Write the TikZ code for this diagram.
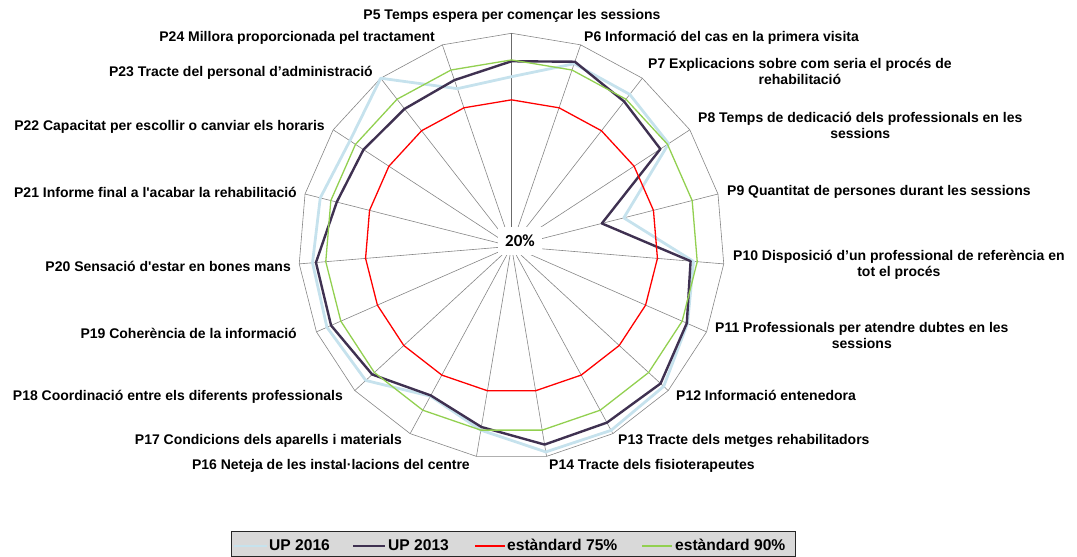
\documentclass[tikz,border=0pt]{standalone}
\usepackage{fontspec}
\setmainfont{Liberation Sans}
\newfontfamily\calfont{Carlito}
\usetikzlibrary{calc}
\definecolor{upA}{RGB}{198,226,237}
\definecolor{upB}{RGB}{63,49,81}
\definecolor{stdR}{RGB}{255,0,0}
\definecolor{stdG}{RGB}{146,208,80}
\definecolor{gridc}{RGB}{134,134,134}
\definecolor{legbg}{RGB}{217,217,217}
\newcommand\lblfont{\fontsize{14}{16}\selectfont\bfseries}
\newcommand\legfont{\fontsize{15.6}{18}\selectfont\bfseries}
\tikzset{
  gridline/.style={draw=gridc,line width=0.6pt},
  valaxis/.style={draw=gridc!80!black,line width=1.2pt},
  serA/.style={draw=upA,line width=2.8pt,line join=round},
  serB/.style={draw=upB,line width=2.4pt,line join=round},
  serR/.style={draw=stdR,line width=1.3pt,line join=round},
  serG/.style={draw=stdG,line width=1.3pt,line join=round},
  lbl/.style={font=\lblfont,inner sep=0pt,text height=10pt,text depth=3pt},
  lbl2/.style={font=\lblfont,inner sep=0pt,align=center},
  legtxt/.style={font=\legfont,inner sep=0pt,text height=11pt,text depth=3.3pt,anchor=west},
  legbox/.style={fill=legbg,draw=black!85,line width=0.8pt}
}
\begin{document}
\begin{tikzpicture}[x=1pt,y=-1pt]
\useasboundingbox (0,0) rectangle (1077,557);
\coordinate (C) at (511.5,246.3);
% grid
\foreach \k in {0,...,18}
  \coordinate (o\k) at ($(C)+({\k*360/19-90}:213)$);
\draw[gridline] (o0) \foreach \k in {1,...,18}{ -- (o\k)} -- cycle;
\foreach \k in {1,...,18} \draw[gridline] (C) -- (o\k);
\draw[valaxis] (C) -- (o0);
% series coordinates
\foreach \v [count=\k from 0] in {83.7,92.5,92.3,90.5,63.5,88.6,92.2,97.7,98.6,98.3,90,84,94.4,95.7,95,94.1,92.5,100,82.6}
  \coordinate (a\k) at ($(C)+({\k*360/19-90}:{(\v-20)*2.6625})$);
\foreach \v [count=\k from 0] in {89.5,93.3,88.9,86.8,55,87.5,91.9,96.1,95.3,95.5,88.8,83.7,91.1,94,93.7,87.7,86.4,85.4,86}
  \coordinate (b\k) at ($(C)+({\k*360/19-90}:{(\v-20)*2.6625})$);
\foreach \k in {0,...,18}{
  \coordinate (r\k) at ($(C)+({\k*360/19-90}:{55*2.6625})$);
  \coordinate (g\k) at ($(C)+({\k*360/19-90}:{70*2.6625})$);
}
\draw[serA] (a0) \foreach \k in {1,...,18}{ -- (a\k)} -- cycle;
\draw[serB] (b0) \foreach \k in {1,...,18}{ -- (b\k)} -- cycle;
\draw[serR] (r0) \foreach \k in {1,...,18}{ -- (r\k)} -- cycle;
\draw[serG] (g0) \foreach \k in {1,...,18}{ -- (g\k)} -- cycle;
% center value label
\node[fill=white,inner sep=0pt,minimum width=44pt,minimum height=28pt,font=\calfont\fontsize{17}{19}\selectfont\bfseries] (v20) at (520,240.5) {20\%};
% labels
\node[lbl] (p5) at (512,16) {P5 Temps espera per començar les sessions};
\node[lbl,anchor=west] (p6) at (584,38) {P6 Informació del cas en la primera visita};
\node[lbl2,anchor=west] (p7) at (648,71) {P7 Explicacions sobre com seria el procés de\\rehabilitació};
\node[lbl2,anchor=west] (p8) at (698,125) {P8 Temps de dedicació dels professionals en les\\sessions};
\node[lbl,anchor=west] (p9) at (727,192) {P9 Quantitat de persones durant les sessions};
\node[lbl2,anchor=west] (p10) at (733,265) {P10 Disposició d’un professional de referència en\\tot el procés};
\node[lbl2,anchor=west] (p11) at (715,335) {P11 Professionals per atendre dubtes en les\\sessions};
\node[lbl,anchor=west] (p12) at (676,397) {P12 Informació entenedora};
\node[lbl,anchor=west] (p13) at (618,441) {P13 Tracte dels metges rehabilitadors};
\node[lbl,anchor=west] (p14) at (549,466) {P14 Tracte dels fisioterapeutes};
\node[lbl,anchor=east] (p16) at (470,466) {P16 Neteja de les instal·lacions del centre};
\node[lbl,anchor=east] (p17) at (402,441) {P17 Condicions dels aparells i materials};
\node[lbl,anchor=east] (p18) at (343,397) {P18 Coordinació entre els diferents professionals};
\node[lbl,anchor=east] (p19) at (297,335) {P19 Coherència de la informació};
\node[lbl,anchor=east] (p20) at (291,268) {P20 Sensació d\textquotesingle estar en bones mans};
\node[lbl,anchor=east] (p21) at (297,194) {P21 Informe final a l\textquotesingle acabar la rehabilitació};
\node[lbl,anchor=east] (p22) at (325,127) {P22 Capacitat per escollir o canviar els horaris};
\node[lbl,anchor=east] (p23) at (373,73) {P23 Tracte del personal d’administració};
\node[lbl,anchor=east] (p24) at (435,38) {P24 Millora proporcionada pel tractament};
% legend
\draw[legbox] (231,531) rectangle (795,556);
\coordinate (la1) at (234,546); \coordinate (la2) at (267,546);
\coordinate (lb1) at (353,546); \coordinate (lb2) at (385,546);
\coordinate (lr1) at (475,546); \coordinate (lr2) at (505,546);
\coordinate (lg1) at (642,546); \coordinate (lg2) at (672,546);
\draw[serA] (la1) -- (la2);
\draw[serB] (lb1) -- (lb2);
\draw[serR] (lr1) -- (lr2);
\draw[serG] (lg1) -- (lg2);
\node[legtxt] (ta) at (269,547) {UP 2016};
\node[legtxt] (tb) at (388,547) {UP 2013};
\node[legtxt] (tr) at (507,547) {estàndard 75\%};
\node[legtxt] (tg) at (675,547) {estàndard 90\%};
\end{tikzpicture}
\end{document}
